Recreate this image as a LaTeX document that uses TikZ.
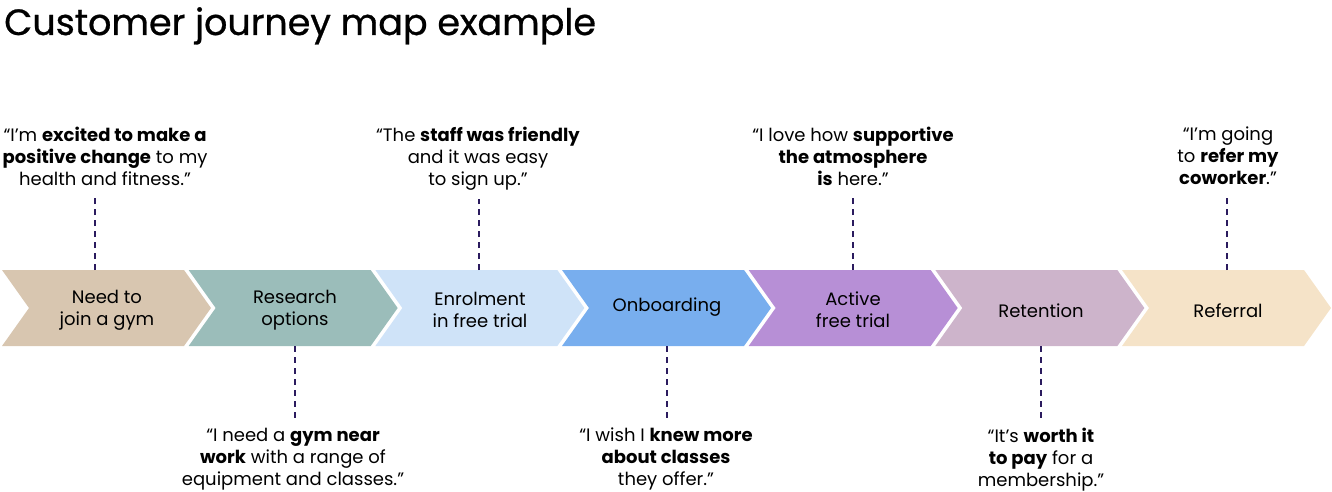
\documentclass[tikz,border=0pt]{standalone}
\usepackage{fontspec}
\setmainfont{Poppins}
\newfontfamily\titlefont[FakeBold=0.8]{Poppins}
\usetikzlibrary{calc}
\begin{document}
\begin{tikzpicture}[x=1pt,y=-1pt,
  chev/.style={fill=#1, draw=none},
  lab/.style={align=center, font=\fontsize{18}{22}\selectfont, inner sep=0pt, text=black},
  quote/.style={align=center, font=\fontsize{18}{22}\selectfont, inner sep=0pt, text=black},
  conn/.style={draw=navy, line width=1.8pt, dash pattern=on 6pt off 5pt}]
\definecolor{navy}{HTML}{2B1B5E}
\definecolor{cA}{HTML}{D8C6B0}
\definecolor{cB}{HTML}{9BBDBA}
\definecolor{cC}{HTML}{CFE3F8}
\definecolor{cD}{HTML}{78AEEE}
\definecolor{cE}{HTML}{B78FD6}
\definecolor{cF}{HTML}{CDB4CB}
\definecolor{cG}{HTML}{F5E3C8}
\useasboundingbox (0,0) rectangle (1332,492);
\node[anchor=base west, inner sep=0pt, font=\titlefont\fontsize{36.5}{40}\selectfont] (title) at (4,35) {Customer journey map example};
% chevrons
\foreach \i/\c in {0/cA,1/cB,2/cC,3/cD,4/cE,5/cF,6/cG}{
  \pgfmathsetmacro{\xx}{2+186.67*\i}
  \fill[chev=\c] (\xx,270) -- ++(182,0) -- ++(27,38) -- ++(-27,38) -- ++(-182,0) -- ++(27,-38) -- cycle;
}
\node[lab] (s1) at (107,310) {Need to\\join a gym};
\node[lab] (s2) at (295,310) {Research\\options};
\node[lab] (s3) at (480,310) {Enrolment\\in free trial};
\node[lab] (s4) at (667,307) {Onboarding};
\node[lab] (s5) at (853,310) {Active\\free trial};
\node[lab] (s6) at (1041,311) {Retention};
\node[lab] (s7) at (1228,311) {Referral};
% chevron edge coordinates
\coordinate (t1) at (95,270);
\coordinate (t3) at (479,270);
\coordinate (t5) at (853,270);
\coordinate (t7) at (1227,270);
\coordinate (b2) at (295,346);
\coordinate (b4) at (667,346);
\coordinate (b6) at (1041,346);
% quotes
\node[quote, anchor=north] (q1) at (105,127) {“I’m \textbf{excited to make a}\\\textbf{positive change} to my\\health and fitness.”};
\node[quote, anchor=north] (q3) at (478,127) {“The \textbf{staff was friendly}\\and it was easy\\to sign up.”};
\node[quote, anchor=north] (q5) at (853,127) {“I love how \textbf{supportive}\\\textbf{the atmosphere}\\\textbf{is} here.”};
\node[quote, anchor=north] (q7) at (1228,127) {“I’m going\\to \textbf{refer my}\\\textbf{coworker}.”};
\node[quote, anchor=north] (q2) at (293,428) {“I need a \textbf{gym near}\\\textbf{work} with a range of\\equipment and classes.”};
\node[quote, anchor=north] (q4) at (666,428) {“I wish I \textbf{knew more}\\\textbf{about classes}\\they offer.”};
\node[quote, anchor=north] (q6) at (1041,428) {“It’s \textbf{worth it}\\\textbf{to pay} for a\\membership.”};
% connectors
\draw[conn] (t1) -- ($(t1 |- q1.south)+(0,8)$);
\draw[conn] (t3) -- ($(t3 |- q3.south)+(0,8)$);
\draw[conn] (t5) -- ($(t5 |- q5.south)+(0,8)$);
\draw[conn] (t7) -- ($(t7 |- q7.south)+(0,8)$);
\draw[conn] (b2) -- ($(b2 |- q2.north)+(0,-7)$);
\draw[conn] (b4) -- ($(b4 |- q4.north)+(0,-7)$);
\draw[conn] (b6) -- ($(b6 |- q6.north)+(0,-7)$);
\end{tikzpicture}
\end{document}
